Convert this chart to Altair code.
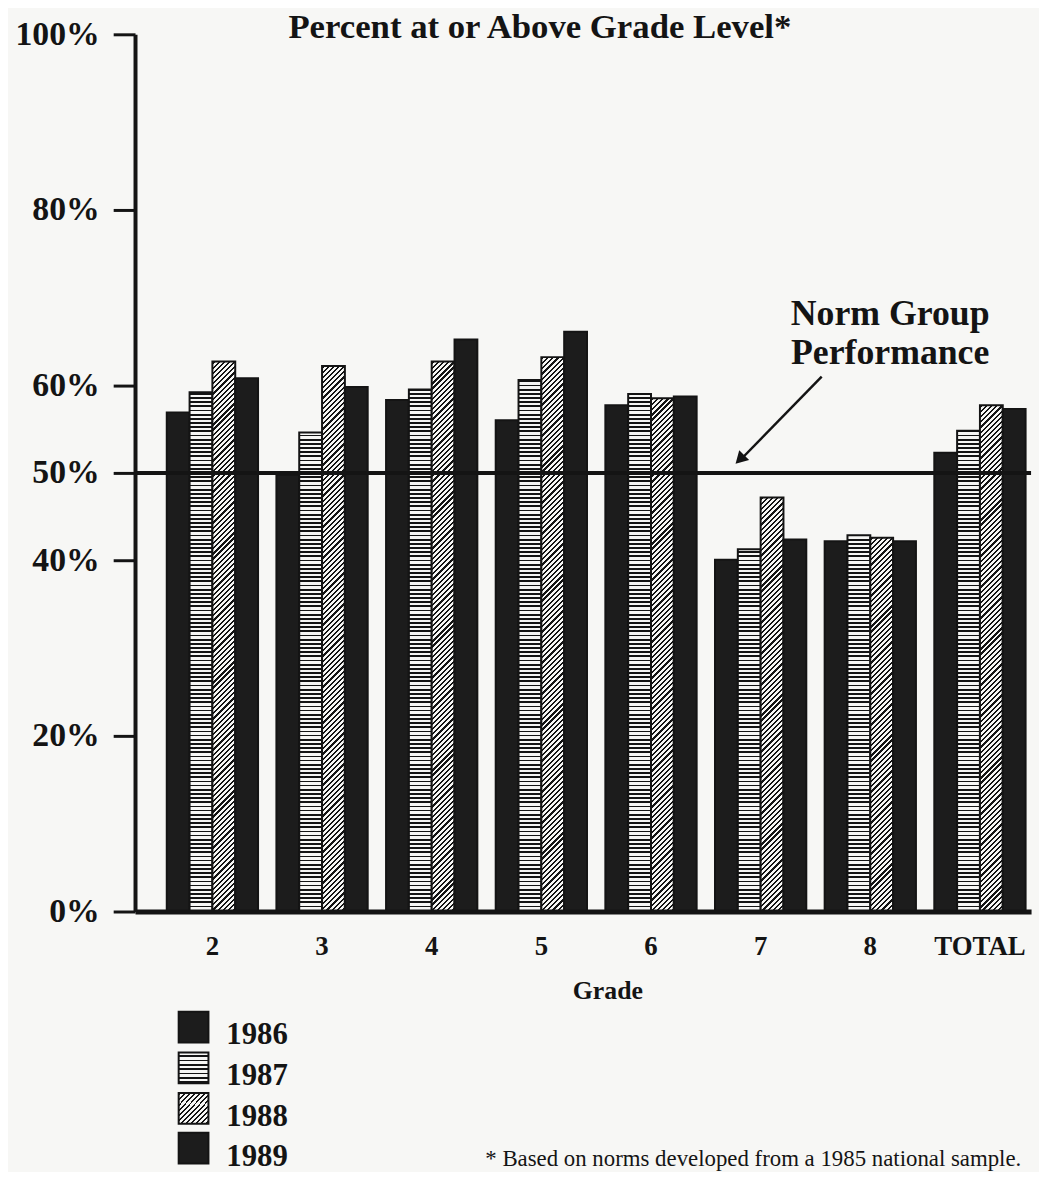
import altair as alt

# ---------------- data ----------------
grades = ["2", "3", "4", "5", "6", "7", "8", "TOTAL"]
years = ["1986", "1987", "1988", "1989"]
pct_1986 = [56.9, 49.8, 58.3, 56.0, 57.7, 40.1, 42.2, 52.3]
pct_1987 = [59.2, 54.6, 59.5, 60.6, 59.0, 41.3, 42.9, 54.8]
pct_1988 = [62.7, 62.2, 62.7, 63.2, 58.5, 47.2, 42.6, 57.7]
pct_1989 = [60.8, 59.8, 65.2, 66.1, 58.7, 42.4, 42.2, 57.3]
y_ticks = [0, 20, 40, 50, 60, 80, 100]
norm_level = [50]

title_text = "Percent at or Above Grade Level*"
note_text = "* Based on norms developed from a 1985 national sample."
annot_lines = ["Norm Group", "Performance"]

# ---------------- styling ----------------
INK = "#141414"
DARK = "#1c1c1c"
PAPER = "#f7f7f5"
FONT = "Liberation Serif"
PLOT_W, PLOT_H = 903, 884
BAR_W = 23


def stripes(h, period=4.2, line=1.8):
    """horizontal stripes as a hard-stop vertical gradient (fixed pixel period)."""
    h = max(h, 1.0)
    ivs = []
    d = 0.0
    while d < h:
        a = max(h - d - line, 0.0)
        b = h - d
        ivs.append((a / h, b / h))
        d += period
    ivs.sort()
    stops = [{"offset": 0, "color": PAPER}]
    for a, b in ivs:
        stops += [{"offset": a, "color": PAPER}, {"offset": a, "color": INK},
                  {"offset": b, "color": INK}, {"offset": b, "color": PAPER}]
    stops.append({"offset": 1, "color": PAPER})
    return {"gradient": "linear", "x1": 0, "y1": 0, "x2": 0, "y2": 1, "stops": stops}


def hatch(w, h, period=5.2, line=2.2):
    """45 degree '/' hatching as a hard-stop gradient in bbox space."""
    h = max(h, 1.0)
    S = w + h
    r = w / h
    c = S / (h * (1 + r * r))
    stops = [{"offset": 0, "color": PAPER}]
    s = 1.0
    while s < S:
        a = s / S
        b = min(s + line, S) / S
        stops += [{"offset": a, "color": PAPER}, {"offset": a, "color": INK},
                  {"offset": b, "color": INK}, {"offset": b, "color": PAPER}]
        s += period
    stops.append({"offset": 1, "color": PAPER})
    return {"gradient": "linear", "x1": 0, "y1": 0, "x2": c * r, "y2": c, "stops": stops}


series = dict(zip(years, [pct_1986, pct_1987, pct_1988, pct_1989]))
records = []
for yr in years:
    for g, v in zip(grades, series[yr]):
        hpx = v / 100 * PLOT_H
        if yr == "1987":
            paint = stripes(hpx)
        elif yr == "1988":
            paint = hatch(BAR_W, hpx)
        else:
            paint = DARK
        records.append({"grade": g, "year": yr, "pct": v, "paint": paint})

bars = alt.Chart(alt.Data(values=records)).mark_bar(stroke=INK, strokeWidth=2).encode(
    x=alt.X(
        "grade:N",
        sort=grades,
        scale=alt.Scale(paddingInner=0.1674, paddingOuter=0.1697, align=0.853),
        axis=alt.Axis(
            title="Grade", labelAngle=0, ticks=False, tickSize=0, labelPadding=22,
            labelFont=FONT, labelFontSize=27, labelFontWeight="bold", labelColor=INK,
            titleFont=FONT, titleFontSize=26, titleFontWeight="bold", titleColor=INK,
            titleX=476, titleY=88, titleBaseline="alphabetic", titleAlign="center",
            domainColor=INK, domainWidth=5, zindex=1,
        ),
    ),
    xOffset=alt.XOffset("year:N", sort=years, scale=alt.Scale(paddingInner=0, paddingOuter=0)),
    y=alt.Y(
        "pct:Q",
        stack=None,
        scale=alt.Scale(domain=[0, 100], nice=False),
        axis=alt.Axis(
            title=None, values=y_ticks, labelExpr="datum.value + '%'", grid=False,
            tickSize=22, tickWidth=3, tickColor=INK, labelPadding=14,
            labelFont=FONT, labelFontSize=34, labelFontWeight="bold", labelColor=INK,
            domainColor=INK, domainWidth=4, zindex=1,
        ),
    ),
    fill=alt.Fill("paint:N", scale=None, legend=None),
)

norm = alt.Chart(alt.Data(values=[{"n": v} for v in norm_level])).mark_rule(
    color=INK, strokeWidth=4
).encode(y=alt.datum(norm_level[0]))

one = alt.Data(values=[{}])

arrow_line = alt.Chart(one).mark_rule(color=INK, strokeWidth=2.5).encode(
    x=alt.value(692), x2=alt.value(609), y=alt.value(345), y2=alt.value(430)
)
arrow_head = alt.Chart(one).mark_point(
    shape="triangle", angle=225, filled=True, size=200, color=INK, opacity=1
).encode(x=alt.value(611), y=alt.value(427))

annot = [
    alt.Chart(one).mark_text(
        text=t, font=FONT, fontSize=36, fontWeight="bold", color=INK,
        align="center", baseline="alphabetic",
    ).encode(x=alt.value(761), y=alt.value(yy))
    for t, yy in zip(annot_lines, [293, 332])
]

title = alt.Chart(one).mark_text(
    text=title_text, font=FONT, fontSize=35, fontWeight="bold", color=INK,
    align="center", baseline="alphabetic",
).encode(x=alt.value(408), y=alt.value(4))

note = alt.Chart(one).mark_text(
    text=note_text, font=FONT, fontSize=23, color=INK, align="left", baseline="alphabetic",
).encode(x=alt.value(353), y=alt.value(1140))

# manual legend (swatches + labels)
legend_layers = []
sw_tops = [985, 1026, 1067, 1107]
for yr, top in zip(years, sw_tops):
    if yr == "1987":
        paint = stripes(31, period=4.4, line=1.8)
    elif yr == "1988":
        paint = hatch(31, 31, period=5.2, line=2.0)
    else:
        paint = DARK
    legend_layers.append(
        alt.Chart(one).mark_rect(fill=paint, stroke=INK, strokeWidth=2).encode(
            x=alt.value(44), x2=alt.value(74), y=alt.value(top), y2=alt.value(top + 31)
        )
    )
    legend_layers.append(
        alt.Chart(one).mark_text(
            text=yr, font=FONT, fontSize=31, fontWeight="bold", color=INK,
            align="left", baseline="alphabetic",
        ).encode(x=alt.value(92), y=alt.value(top + 33))
    )

chart = alt.layer(bars, norm, arrow_line, arrow_head, title, note, *annot, *legend_layers).properties(
    width=PLOT_W,
    height=PLOT_H,
    padding={"left": 128, "top": 22, "right": 8, "bottom": 258},
    autosize=alt.AutoSizeParams(type="none"),
    background=PAPER,
).configure_view(stroke=None)

chart.save("out.html", embed_options={"renderer": "svg", "actions": False})
